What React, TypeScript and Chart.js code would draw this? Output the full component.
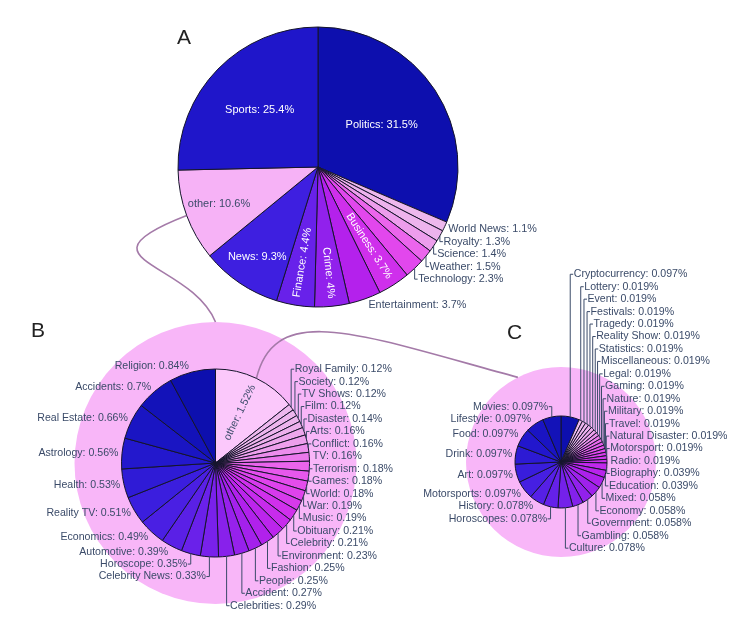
import React, { useEffect, useRef } from 'react';
import { Chart, registerables } from 'chart.js';

Chart.register(...registerables);

// ---------------- DATA (clockwise from 12 o'clock) ----------------
const topicsA = ['Politics', 'World News', 'Royalty', 'Science', 'Weather', 'Technology', 'Business', 'Entertainment', 'Crime', 'Finance', 'News', 'other', 'Sports'];
const sharesA = [31.5, 1.1, 1.3, 1.4, 1.5, 2.3, 3.7, 3.7, 4, 4.4, 9.3, 10.6, 25.4];

const topicsB = ['other', 'Royal Family', 'Society', 'TV Shows', 'Film', 'Disaster', 'Arts', 'Conflict', 'TV', 'Terrorism', 'Games', 'World', 'War', 'Music', 'Obituary', 'Celebrity', 'Environment', 'Fashion', 'People', 'Accident', 'Celebrities', 'Celebrity News', 'Horoscope', 'Automotive', 'Economics', 'Reality TV', 'Health', 'Astrology', 'Real Estate', 'Accidents', 'Religion'];
const sharesB = [1.52, 0.12, 0.12, 0.12, 0.12, 0.14, 0.16, 0.16, 0.16, 0.18, 0.18, 0.18, 0.19, 0.19, 0.21, 0.21, 0.23, 0.25, 0.25, 0.27, 0.29, 0.33, 0.35, 0.39, 0.49, 0.51, 0.53, 0.56, 0.66, 0.7, 0.84];

const topicsC = ['Cryptocurrency', 'Lottery', 'Event', 'Festivals', 'Tragedy', 'Reality Show', 'Statistics', 'Miscellaneous', 'Legal', 'Gaming', 'Nature', 'Military', 'Travel', 'Natural Disaster', 'Motorsport', 'Radio', 'Biography', 'Education', 'Mixed', 'Economy', 'Government', 'Gambling', 'Culture', 'Horoscopes', 'History', 'Motorsports', 'Art', 'Drink', 'Food', 'Lifestyle', 'Movies'];
const sharesC = [0.097, 0.019, 0.019, 0.019, 0.019, 0.019, 0.019, 0.019, 0.019, 0.019, 0.019, 0.019, 0.019, 0.019, 0.019, 0.019, 0.039, 0.039, 0.058, 0.058, 0.058, 0.058, 0.078, 0.078, 0.078, 0.097, 0.097, 0.097, 0.097, 0.097, 0.097];

const panelNames = ['A', 'B', 'C'];

// ---------------- LAYOUT / STYLE ----------------
const W = 754;
const H = 636;
const FONT = '"Liberation Sans", Arial, Helvetica, sans-serif';
const TEXT_COLOR = '#3b4b69';
const CIRCLE_PINK = '#f8b6f8';
const LINK_COLOR = '#a47aa8';
const PLOTLY3 = ['#0508b8', '#1910d8', '#3c19f0', '#6b1cfb', '#981cfd', '#bf1cfd', '#dd2bfd', '#f246fe', '#fc67fd', '#fea5fd', '#febefe', '#fec3fe'];

const GEO_A = { cx: 318, cy: 167, r: 140 };
const GEO_B = { cx: 215.5, cy: 463, r: 94 };
const GEO_C = { cx: 561, cy: 462, r: 46 };
const PINK_B = 141;
const PINK_C = 95;

type Geo = { cx: number; cy: number; r: number };
type LabelCfg = { fontSize: number; insideFont: number; gap: number; otherColor: string; inside: Record<string, 'h' | 'r'> };

const CFG_A: LabelCfg = { fontSize: 10.8, insideFont: 11, gap: 12.5, otherColor: '#f6b2f6', inside: { Politics: 'h', Sports: 'h', other: 'h', News: 'h', Finance: 'r', Crime: 'r', Business: 'r' } };
const CFG_B: LabelCfg = { fontSize: 10.6, insideFont: 10.6, gap: 12.45, otherColor: '#fbc8fb', inside: { other: 'r' } };
const CFG_C: LabelCfg = { fontSize: 10.6, insideFont: 10.6, gap: 12.45, otherColor: '#fbc8fb', inside: {} };

function hexToRgb(h: string) {
  const v = parseInt(h.slice(1), 16);
  return [(v >> 16) & 255, (v >> 8) & 255, v & 255];
}
function scaleColor(t: number) {
  const pos = t * (PLOTLY3.length - 1);
  const i = Math.min(Math.floor(pos), PLOTLY3.length - 2);
  const f = pos - i;
  const a = hexToRgb(PLOTLY3[i]);
  const b = hexToRgb(PLOTLY3[i + 1]);
  const c = a.map((x, k) => Math.round((x + (b[k] - x) * f) * 0.9 + 8));
  return `rgb(${c[0]},${c[1]},${c[2]})`;
}
function rankColors(labels: string[], values: number[], otherColor: string) {
  const n = labels.length;
  const ccwPos = (i: number) => (i === 0 ? 0 : n - i);
  const idx = labels.map((_, i) => i).filter((i) => labels[i] !== 'other');
  idx.sort((a, b) => values[b] - values[a] || ccwPos(a) - ccwPos(b));
  const colors: string[] = new Array(n);
  idx.forEach((i, k) => (colors[i] = scaleColor(idx.length > 1 ? k / (idx.length - 1) : 0)));
  labels.forEach((l, i) => {
    if (l === 'other') colors[i] = otherColor;
  });
  return colors;
}
function isLight(col: string) {
  let r: number, g: number, b: number;
  if (col.startsWith('#')) [r, g, b] = hexToRgb(col);
  else [r, g, b] = col.replace(/[^\d,]/g, '').split(',').map(Number);
  return 0.299 * r + 0.587 * g + 0.114 * b > 150;
}
function midTheta(values: number[], index: number) {
  const tot = values.reduce((s, v) => s + v, 0);
  let cum = 0;
  for (let i = 0; i < index; i++) cum += values[i];
  return ((cum + values[index] / 2) / tot) * Math.PI * 2;
}

function labelPlugin(cfg: LabelCfg) {
  return {
    id: 'sliceLabels',
    afterDatasetsDraw(chart: any) {
      const ctx: CanvasRenderingContext2D = chart.ctx;
      const meta = chart.getDatasetMeta(0);
      const labels = chart.data.labels as string[];
      const vals = chart.data.datasets[0].data as number[];
      const bg = chart.data.datasets[0].backgroundColor as string[];
      const outs: any[] = [];
      ctx.save();
      meta.data.forEach((el: any, i: number) => {
        const p = el.getProps(['x', 'y', 'startAngle', 'endAngle', 'outerRadius'], true);
        const mid = (p.startAngle + p.endAngle) / 2;
        const dx = Math.cos(mid);
        const dy = Math.sin(mid);
        const text = `${labels[i]}: ${vals[i]}%`;
        const mode = cfg.inside[labels[i]];
        const r = p.outerRadius;
        if (mode) {
          ctx.font = `${cfg.insideFont}px ${FONT}`;
          ctx.fillStyle = isLight(bg[i]) ? TEXT_COLOR : '#ffffff';
          ctx.textAlign = 'center';
          ctx.textBaseline = 'middle';
          const w = ctx.measureText(text).width;
          if (mode === 'h') {
            const half = (p.endAngle - p.startAngle) / 2;
            const rIns = Math.min(0.5, 1 / (1 + 1 / Math.sin(Math.min(half, Math.PI / 2))));
            const d = r * (1 - rIns);
            ctx.fillText(text, p.x + dx * d, p.y + dy * d);
          } else {
            const d = r - 8 - w / 2;
            let rot = Math.atan2(dy, dx);
            if (rot > Math.PI / 2) rot -= Math.PI;
            if (rot < -Math.PI / 2) rot += Math.PI;
            ctx.save();
            ctx.translate(p.x + dx * d, p.y + dy * d);
            ctx.rotate(rot);
            ctx.fillText(text, 0, 0);
            ctx.restore();
          }
        } else {
          const cosT = -dy;
          const ax = p.x + r * dx;
          const ay = p.y + r * dy;
          outs.push({ text, ax, ay, cosT, right: dx >= 0, want: ay - (cfg.gap / 2) * cosT, y: 0 });
        }
      });
      // stack outside labels (push away from the equator)
      [true, false].forEach((side) => {
        const list = outs.filter((o) => o.right === side);
        const top = list.filter((o) => o.cosT > 0).sort((a, b) => b.want - a.want);
        const bot = list.filter((o) => o.cosT <= 0).sort((a, b) => a.want - b.want);
        let prev = Infinity;
        top.forEach((o) => {
          o.y = Math.min(o.want, prev - cfg.gap);
          prev = o.y;
        });
        let prevB = top.length ? top[0].y : -Infinity;
        bot.forEach((o) => {
          o.y = Math.max(o.want, prevB + cfg.gap);
          prevB = o.y;
        });
      });
      const pad = 3.5;
      ctx.font = `${cfg.fontSize}px ${FONT}`;
      ctx.textBaseline = 'middle';
      ctx.strokeStyle = TEXT_COLOR;
      ctx.fillStyle = TEXT_COLOR;
      ctx.lineWidth = 1;
      outs.forEach((o) => {
        const tx = o.right ? o.ax + pad : o.ax - pad;
        if (Math.abs(o.y - o.want) > 0.5) {
          ctx.beginPath();
          ctx.moveTo(o.ax, o.ay);
          ctx.lineTo(o.ax, o.y);
          ctx.lineTo(o.right ? tx - 0.5 : tx + 0.5, o.y);
          ctx.stroke();
        }
        ctx.textAlign = o.right ? 'left' : 'right';
        ctx.fillText(o.text, tx, o.y);
      });
      ctx.restore();
    },
  };
}

const decorPlugin = {
  id: 'decor',
  beforeDraw(chart: any) {
    const ctx: CanvasRenderingContext2D = chart.ctx;
    ctx.save();
    ctx.fillStyle = CIRCLE_PINK;
    ctx.beginPath();
    ctx.arc(GEO_B.cx, GEO_B.cy, PINK_B, 0, Math.PI * 2);
    ctx.fill();
    ctx.beginPath();
    ctx.arc(GEO_C.cx, GEO_C.cy, PINK_C, 0, Math.PI * 2);
    ctx.fill();

    ctx.strokeStyle = LINK_COLOR;
    ctx.lineWidth = 1.6;
    const tA = midTheta(sharesA, topicsA.indexOf('other'));
    const p0 = [GEO_A.cx + GEO_A.r * Math.sin(tA), GEO_A.cy - GEO_A.r * Math.cos(tA)];
    const p3 = [GEO_B.cx, GEO_B.cy - PINK_B];
    ctx.beginPath();
    ctx.moveTo(p0[0], p0[1]);
    ctx.bezierCurveTo(p0[0] - 116, p0[1] + 45, p3[0] - 25, p3[1] - 61, p3[0], p3[1]);
    ctx.stroke();

    const tB = midTheta(sharesB, topicsB.indexOf('other'));
    const q0 = [GEO_B.cx + GEO_B.r * Math.sin(tB), GEO_B.cy - GEO_B.r * Math.cos(tB)];
    const tEnd = (333 * Math.PI) / 180;
    const q3 = [GEO_C.cx + PINK_C * Math.sin(tEnd), GEO_C.cy - PINK_C * Math.cos(tEnd)];
    ctx.beginPath();
    ctx.moveTo(q0[0], q0[1]);
    ctx.bezierCurveTo(q0[0] + 19, q0[1] - 78, q3[0] - 158, q3[1] - 43, q3[0], q3[1]);
    ctx.stroke();

    ctx.fillStyle = '#222';
    ctx.font = `21px ${FONT}`;
    ctx.textAlign = 'left';
    ctx.textBaseline = 'alphabetic';
    ctx.fillText(panelNames[0], 177, 44);
    ctx.fillText(panelNames[1], 31, 337);
    ctx.fillText(panelNames[2], 507, 339);
    ctx.restore();
  },
};

function padFor(g: Geo) {
  return {
    left: 2 * g.cx > W ? 2 * g.cx - W : 0,
    right: 2 * g.cx < W ? W - 2 * g.cx : 0,
    top: 2 * g.cy > H ? 2 * g.cy - H : 0,
    bottom: 2 * g.cy < H ? H - 2 * g.cy : 0,
  };
}

function makePie(canvas: HTMLCanvasElement, labels: string[], values: number[], geo: Geo, cfg: LabelCfg, extra: any[]) {
  return new Chart(canvas, {
    type: 'pie',
    data: {
      labels,
      datasets: [
        {
          data: values,
          backgroundColor: rankColors(labels, values, cfg.otherColor),
          borderColor: '#14142a',
          borderWidth: 1,
          radius: geo.r,
          hoverOffset: 0,
        } as any,
      ],
    },
    options: {
      responsive: false,
      animation: false,
      events: [],
      layout: { padding: padFor(geo) },
      plugins: { legend: { display: false }, tooltip: { enabled: false } },
    },
    plugins: [...extra, labelPlugin(cfg)],
  });
}

export default function App() {
  const refA = useRef<HTMLCanvasElement>(null);
  const refB = useRef<HTMLCanvasElement>(null);
  const refC = useRef<HTMLCanvasElement>(null);

  useEffect(() => {
    document.body.style.margin = '0';
    document.body.style.overflow = 'hidden';
    document.body.style.background = '#ffffff';
    const a = makePie(refA.current!, topicsA, sharesA, GEO_A, CFG_A, [decorPlugin]);
    const b = makePie(refB.current!, topicsB, sharesB, GEO_B, CFG_B, []);
    const c = makePie(refC.current!, topicsC, sharesC, GEO_C, CFG_C, []);
    return () => {
      a.destroy();
      b.destroy();
      c.destroy();
    };
  }, []);

  const st: React.CSSProperties = { position: 'absolute', left: 0, top: 0, width: W, height: H };
  return (
    <div style={{ position: 'relative', width: W, height: H, background: '#fff' }}>
      <canvas ref={refA} width={W} height={H} style={st} />
      <canvas ref={refB} width={W} height={H} style={st} />
      <canvas ref={refC} width={W} height={H} style={st} />
    </div>
  );
}
